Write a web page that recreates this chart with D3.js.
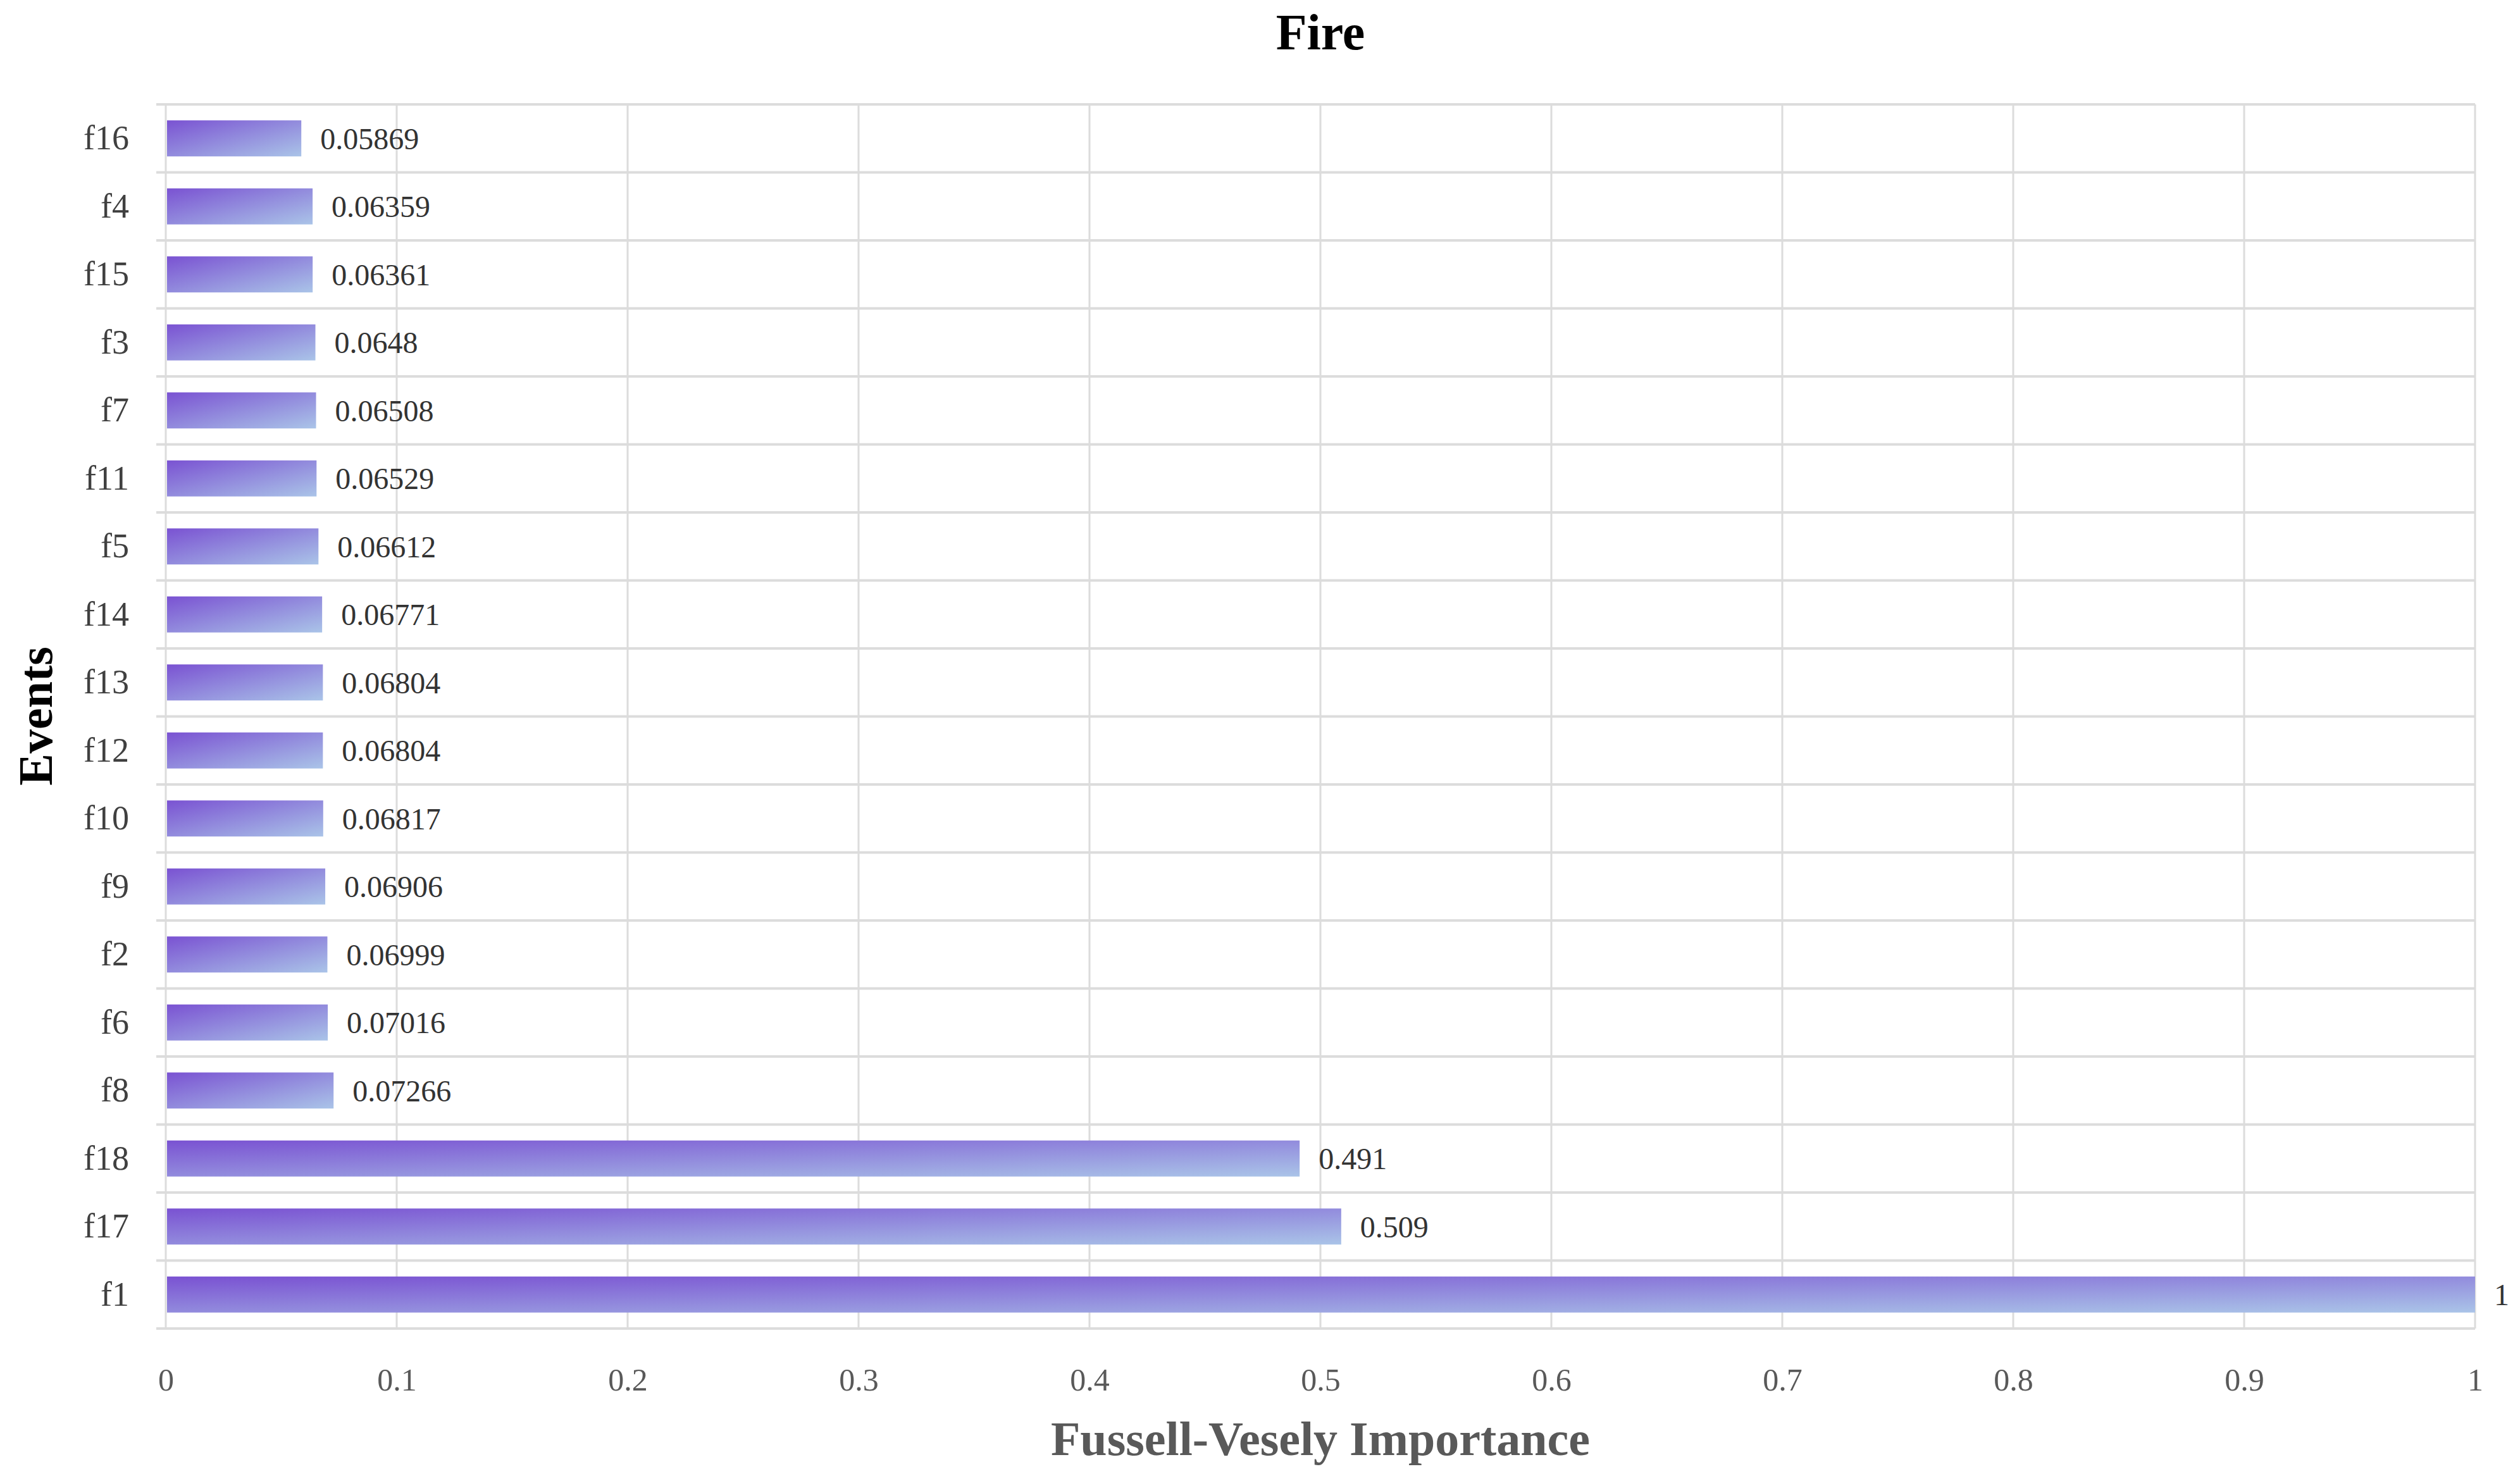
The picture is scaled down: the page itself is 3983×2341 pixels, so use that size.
<!DOCTYPE html>
<html><head><meta charset="utf-8">
<script src="https://cdn.jsdelivr.net/npm/d3@7"></script>
<style>body{margin:0;background:#fff}</style>
</head><body>
<svg id="c" width="3983" height="2341"></svg>
<script>
// top to bottom
var events = ["f16","f4","f15","f3","f7","f11","f5","f14","f13","f12","f10","f9","f2","f6","f8","f18","f17","f1"];
var values = [0.05869,0.06359,0.06361,0.0648,0.06508,0.06529,0.06612,0.06771,0.06804,0.06804,0.06817,0.06906,0.06999,0.07016,0.07266,0.491,0.509,1];
var labels = ["0.05869","0.06359","0.06361","0.0648","0.06508","0.06529","0.06612","0.06771","0.06804","0.06804","0.06817","0.06906","0.06999","0.07016","0.07266","0.491","0.509","1"];
var xTicks = [0,0.1,0.2,0.3,0.4,0.5,0.6,0.7,0.8,0.9,1];

var svg = d3.select("#c");
var m = {l:262, r:71, t:165, b:241};
var W = 3983, H = 2341;
var font = "'Liberation Serif', 'Times New Roman', serif";

var x = d3.scaleLinear().domain([0,1]).range([m.l, W-m.r]);
var y = d3.scaleBand().domain(events).range([m.t, H-m.b]).paddingInner(0).paddingOuter(0);

var grad = svg.append("defs").append("linearGradient").attr("id","g")
  .attr("x1","0").attr("y1","0").attr("x2","1").attr("y2","1");
grad.append("stop").attr("offset","0%").attr("stop-color","#7a52d2");
grad.append("stop").attr("offset","100%").attr("stop-color","#aac4e8");

// grid
svg.append("g").selectAll("line.v").data(xTicks).enter().append("line")
  .attr("x1",d=>x(d)).attr("x2",d=>x(d)).attr("y1",m.t).attr("y2",H-m.b)
  .attr("stroke","#dcdcdc").attr("stroke-width",3);
var hb = events.map(e=>y(e)).concat([H-m.b]);
svg.append("g").selectAll("line.h").data(hb).enter().append("line")
  .attr("x1",m.l-15).attr("x2",W-m.r).attr("y1",d=>d).attr("y2",d=>d)
  .attr("stroke","#dcdcdc").attr("stroke-width",4);

var bh = y.bandwidth()*0.53;
svg.append("g").selectAll("rect").data(values).enter().append("rect")
  .attr("x",x(0)+2).attr("y",(d,i)=>y(events[i])+(y.bandwidth()-bh)/2)
  .attr("width",d=>x(d)-x(0)-2).attr("height",bh).attr("fill","url(#g)");

svg.append("g").selectAll("text").data(values).enter().append("text")
  .attr("x",d=>x(d)+30).attr("y",(d,i)=>y(events[i])+y.bandwidth()/2)
  .attr("dy","0.35em").attr("font-family",font).attr("font-size",48).attr("fill","#333")
  .text((d,i)=>labels[i]);

// axes
var xa = svg.append("g").attr("transform","translate(0,"+(H-m.b)+")")
  .call(d3.axisBottom(x).tickValues(xTicks).tickFormat(d=>String(d)).tickSize(0).tickPadding(62));
xa.select(".domain").remove();
xa.selectAll("text").attr("font-family",font).attr("font-size",50).attr("fill","#595959");

var ya = svg.append("g").attr("transform","translate("+(m.l-58)+",0)")
  .call(d3.axisLeft(y).tickSize(0).tickPadding(0));
ya.select(".domain").remove();
ya.selectAll("text").attr("font-family",font).attr("font-size",54).attr("fill","#404040");

svg.append("text").attr("x",(m.l+W-m.r)/2).attr("y",78).attr("text-anchor","middle")
  .attr("font-family",font).attr("font-weight","bold").attr("font-size",80).text("Fire");
svg.append("text").attr("x",(m.l+W-m.r)/2).attr("y",2300).attr("text-anchor","middle")
  .attr("font-family",font).attr("font-weight","bold").attr("font-size",76).attr("fill","#595959")
  .text("Fussell-Vesely Importance");
svg.append("text").attr("transform","translate(82,1132) rotate(-90)").attr("text-anchor","middle")
  .attr("font-family",font).attr("font-weight","bold").attr("font-size",76).text("Events");
</script>
</body></html>
